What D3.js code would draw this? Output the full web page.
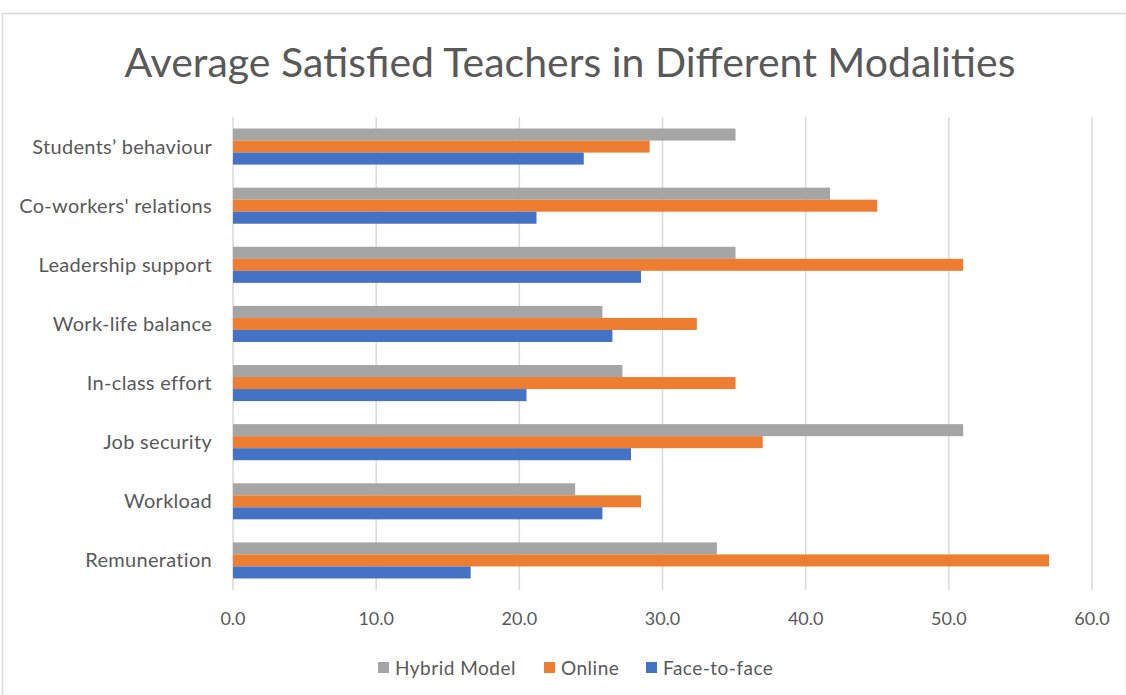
<!DOCTYPE html>
<html>
<head>
<meta charset="utf-8">
<script src="https://d3js.org/d3.v7.min.js"></script>
<style>
body { margin: 0; background: #fff; }
svg text { font-family: Lato, "Open Sans", sans-serif; fill: #595959; }
</style>
</head>
<body>
<script>
// categories, top to bottom
var categories = ["Students\u2019 behaviour", "Co-workers' relations", "Leadership support",
  "Work-life balance", "In-class effort", "Job security", "Workload", "Remuneration"];
var seriesNames = ["Hybrid Model", "Online", "Face-to-face"];
var seriesColors = ["#a5a5a5", "#ed7d31", "#4472c4"];
var hybrid = [35.1, 41.7, 35.1, 25.8, 27.2, 51.0, 23.9, 33.8];
var online = [29.1, 45.0, 51.0, 32.4, 35.1, 37.0, 28.5, 57.0];
var faceToFace = [24.5, 21.2, 28.5, 26.5, 20.5, 27.8, 25.8, 16.6];
var xTicks = [0, 10, 20, 30, 40, 50, 60];

var W = 1126, H = 695;
var svg = d3.select("body").append("svg")
    .attr("width", W)
    .attr("height", H);

// chart frame
svg.append("rect")
   .attr("x", 2.5).attr("y", 13.5)
   .attr("width", W - 2).attr("height", H - 10)
   .attr("fill", "none")
   .attr("stroke", "#d9d9d9")
   .attr("stroke-width", 1.5);

svg.append("text")
   .attr("x", 570)
   .attr("y", 77)
   .attr("text-anchor", "middle")
   .style("font-size", "41px")
   .text("Average Satisfied Teachers in Different Modalities");

var x = d3.scaleLinear().domain([0, 60]).range([233, 1092]);
var y = d3.scaleBand().domain(categories).range([117, 590])
    .paddingInner(0.39).paddingOuter(0.195);
var sub = d3.scaleBand().domain(seriesNames).range([0, y.bandwidth()]);

// gridlines
svg.append("g").selectAll("line")
   .data(xTicks)
   .enter().append("line")
   .attr("x1", function(d) { return x(d); })
   .attr("x2", function(d) { return x(d); })
   .attr("y1", 117)
   .attr("y2", 590)
   .attr("stroke", "#d9d9d9")
   .attr("stroke-width", 1.5);

var rows = categories.map(function(c, i) {
  return { cat: c, vals: [hybrid[i], online[i], faceToFace[i]] };
});

var groups = svg.append("g").selectAll("g")
   .data(rows)
   .enter().append("g")
   .attr("transform", function(d) { return "translate(0," + y(d.cat) + ")"; });

groups.selectAll("rect")
   .data(function(d) { return d.vals.map(function(v, j) { return { s: seriesNames[j], v: v, j: j }; }); })
   .enter().append("rect")
   .attr("x", x(0))
   .attr("y", function(d) { return sub(d.s); })
   .attr("width", function(d) { return x(d.v) - x(0); })
   .attr("height", sub.bandwidth())
   .attr("fill", function(d) { return seriesColors[d.j]; });

// category labels
svg.append("g").selectAll("text")
   .data(categories)
   .enter().append("text")
   .attr("x", 212)
   .attr("y", function(d) { return y(d) + y.bandwidth() / 2; })
   .attr("dy", "0.35em")
   .attr("text-anchor", "end")
   .style("font-size", "20px")
   .style("letter-spacing", "0.3px")
   .text(function(d) { return d; });

// x tick labels
svg.append("g").selectAll("text")
   .data(xTicks)
   .enter().append("text")
   .attr("x", function(d) { return x(d); })
   .attr("y", 625)
   .attr("text-anchor", "middle")
   .style("font-size", "18px")
   .text(function(d) { return d3.format(".1f")(d); });

// legend
var legendX = [378, 544, 646];
var legend = svg.append("g").selectAll("g")
   .data(seriesNames)
   .enter().append("g")
   .attr("transform", function(d, i) { return "translate(" + legendX[i] + ",662)"; });
legend.append("rect")
   .attr("width", 11).attr("height", 11)
   .attr("fill", function(d, i) { return seriesColors[i]; });
legend.append("text")
   .attr("x", 17)
   .attr("y", 6)
   .attr("dy", "0.35em")
   .style("font-size", "19px")
   .style("letter-spacing", "0.5px")
   .text(function(d) { return d; });
</script>
</body>
</html>
